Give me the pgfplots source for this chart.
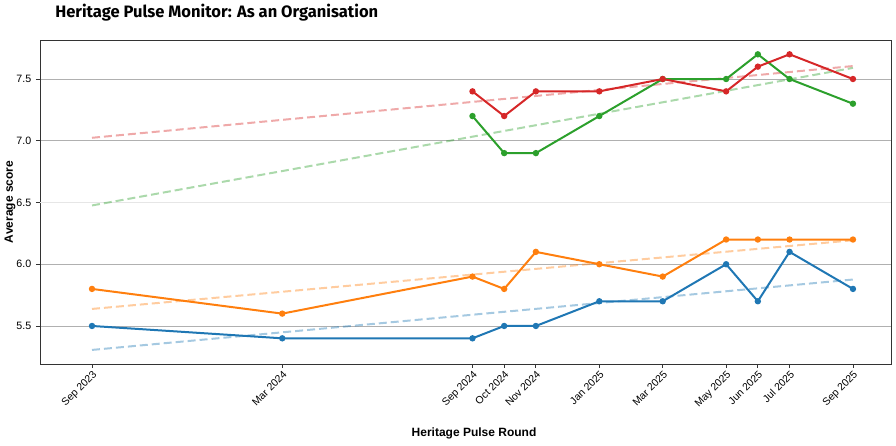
\documentclass[border=0pt]{standalone}
\usepackage{pgfplots}
\pgfplotsset{compat=1.18}
\usepackage{fontspec}
\setmainfont{Liberation Sans}
\newfontfamily\titlefont{Fira Sans}
\definecolor{tblue}{HTML}{1F77B4}
\definecolor{torange}{HTML}{FF7F0E}
\definecolor{tgreen}{HTML}{2CA02C}
\definecolor{tred}{HTML}{D62728}
\definecolor{gridc}{HTML}{B0B0B0}
\definecolor{gridl}{HTML}{E6E6E6}
\begin{document}
\begin{tikzpicture}
\useasboundingbox (0pt,0pt) rectangle (672pt,334.5pt);
\begin{axis}[
  at={(30pt,61.5pt)}, anchor=south west,
  scale only axis, width=638.25pt, height=243pt,
  xmin=-1.64, xmax=25.2, ymin=5.192, ymax=7.816,
  xtick={0,6,12,13,14,16,18,20,21,22,24},
  xticklabels={Sep 2023,Mar 2024,Sep 2024,Oct 2024,Nov 2024,Jan 2025,Mar 2025,May 2025,Jun 2025,Jul 2025,Sep 2025},
  xticklabel style={rotate=45, anchor=north east, font=\fontsize{7.8}{9}\selectfont, inner sep=1pt},
  ytick={5.5,6.0,7.0,7.5},
  yticklabels={5.5,6.0,7.0,7.5},
  extra y ticks={6.5}, extra y tick labels={6.5},
  extra y tick style={grid style={gridl, line width=0.6pt}},
  yticklabel style={font=\fontsize{8}{9}\selectfont},
  ymajorgrids, grid style={gridc, line width=0.6pt},
  xtick pos=bottom, ytick pos=left, tick align=outside,
  major tick length=3pt, tick style={black!80, line width=0.6pt},
  axis line style={black!80, line width=0.7pt},
  xlabel={\bfseries Heritage Pulse Round},
  ylabel={\bfseries Average score},
  xlabel style={at={(axis description cs:0.51,-0.213)}, anchor=center, font=\fontsize{9}{10}\selectfont},
  ylabel style={at={(axis description cs:-0.0353,0.5)}, anchor=center, font=\fontsize{9}{10}\selectfont},
  clip=false,
]
% trend lines
\addplot[tblue, opacity=0.4, dash pattern=on 6pt off 3pt, line width=1.5pt] coordinates {(0,5.306) (24,5.876)};
\addplot[torange, opacity=0.4, dash pattern=on 6pt off 3pt, line width=1.5pt] coordinates {(0,5.638) (24,6.194)};
\addplot[tgreen, opacity=0.4, dash pattern=on 6pt off 3pt, line width=1.5pt] coordinates {(0,6.476) (24,7.59)};
\addplot[tred, opacity=0.4, dash pattern=on 6pt off 3pt, line width=1.5pt] coordinates {(0,7.024) (24,7.605)};
% data
\addplot[tblue, line width=1.5pt, mark=*, mark size=1.6pt] coordinates {
(0,5.5) (6,5.4) (12,5.4) (13,5.5) (14,5.5) (16,5.7) (18,5.7) (20,6.0) (21,5.7) (22,6.1) (24,5.8)};
\addplot[torange, line width=1.5pt, mark=*, mark size=1.6pt] coordinates {
(0,5.8) (6,5.6) (12,5.9) (13,5.8) (14,6.1) (16,6.0) (18,5.9) (20,6.2) (21,6.2) (22,6.2) (24,6.2)};
\addplot[tgreen, line width=1.5pt, mark=*, mark size=1.6pt] coordinates {
(12,7.2) (13,6.9) (14,6.9) (16,7.2) (18,7.5) (20,7.5) (21,7.7) (22,7.5) (24,7.3)};
\addplot[tred, line width=1.5pt, mark=*, mark size=1.6pt] coordinates {
(12,7.4) (13,7.2) (14,7.4) (16,7.4) (18,7.5) (20,7.4) (21,7.6) (22,7.7) (24,7.5)};
\end{axis}
\node[anchor=west, inner sep=0pt, font=\titlefont\bfseries\fontsize{12.4}{14}\selectfont] at (41.25pt,324.75pt) {Heritage Pulse Monitor: As an Organisation};
\end{tikzpicture}
\end{document}
